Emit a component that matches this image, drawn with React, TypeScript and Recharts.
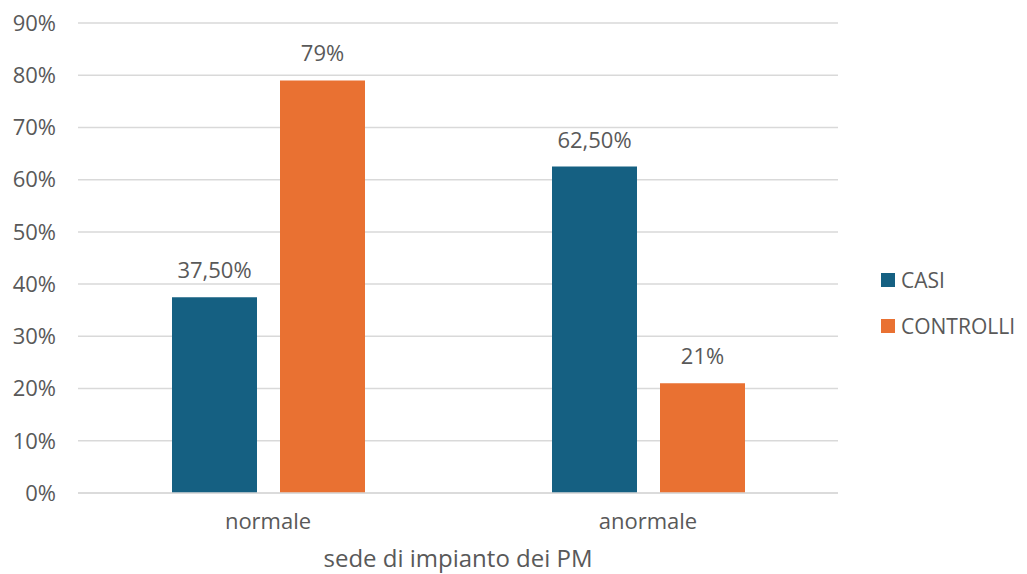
import { BarChart, Bar, XAxis, YAxis, CartesianGrid, LabelList } from "recharts";

const categories = ["normale", "anormale"];
const casi = [37.5, 62.5];
const controlli = [79, 21];
const yTicks = [0, 10, 20, 30, 40, 50, 60, 70, 80, 90];

const BLUE = "#156082";
const ORANGE = "#E97132";
const TEXT = "#595959";
const FONT = "'Open Sans', sans-serif";

const data = categories.map((name, i) => ({
  name,
  casi: casi[i],
  controlli: controlli[i],
}));

const legendItems = [
  { label: "CASI", color: BLUE },
  { label: "CONTROLLI", color: ORANGE },
];

// 79 -> "79%", 37.5 -> "37,50%"
const pct = (v: number) =>
  Number.isInteger(v) ? `${v}%` : `${v.toFixed(2).replace(".", ",")}%`;

export default function App() {
  return (
    <div style={{ position: "absolute", left: 0, top: 0, width: 1027, height: 574, background: "#fff" }}>
      <BarChart
        width={1027}
        height={574}
        data={data}
        margin={{ top: 23, right: 189, left: 0, bottom: 0 }}
        barGap={23}
        barSize={85}
      >
        <CartesianGrid vertical={false} stroke="#d9d9d9" strokeWidth={1.5} />
        <YAxis
          width={78}
          domain={[0, 90]}
          ticks={yTicks}
          tickFormatter={(v) => `${v}%`}
          axisLine={false}
          tickLine={false}
          tickSize={0}
          tickMargin={22}
          tick={{ fontSize: 22, fill: TEXT, fontFamily: FONT }}
        />
        <XAxis
          dataKey="name"
          height={81}
          axisLine={{ stroke: "#d9d9d9", strokeWidth: 1.5 }}
          tickLine={false}
          tickSize={0}
          tickMargin={20}
          tick={{ fontSize: 22, fill: TEXT, fontFamily: FONT }}
          label={{
            value: "sede di impianto dei PM",
            position: "insideBottom",
            offset: 7,
            fill: TEXT,
            fontSize: 24,
            fontFamily: FONT,
          }}
        />
        <Bar dataKey="casi" name="CASI" fill={BLUE} isAnimationActive={false}>
          <LabelList
            dataKey="casi"
            position="top"
            offset={19}
            formatter={(v: any) => pct(Number(v))}
            style={{ fontSize: 22, fill: TEXT, fontFamily: FONT }}
          />
        </Bar>
        <Bar dataKey="controlli" name="CONTROLLI" fill={ORANGE} isAnimationActive={false}>
          <LabelList
            dataKey="controlli"
            position="top"
            offset={19}
            formatter={(v: any) => pct(Number(v))}
            style={{ fontSize: 22, fill: TEXT, fontFamily: FONT }}
          />
        </Bar>
      </BarChart>
      <div
        style={{
          position: "absolute",
          left: 881,
          top: 266,
          fontFamily: FONT,
          fontSize: 21,
          color: TEXT,
        }}
      >
        {legendItems.map((item, i) => (
          <div
            key={item.label}
            style={{ display: "flex", alignItems: "center", height: 28, marginTop: i ? 18 : 0 }}
          >
            <div style={{ width: 14, height: 14, background: item.color, marginRight: 6 }} />
            <span>{item.label}</span>
          </div>
        ))}
      </div>
    </div>
  );
}
